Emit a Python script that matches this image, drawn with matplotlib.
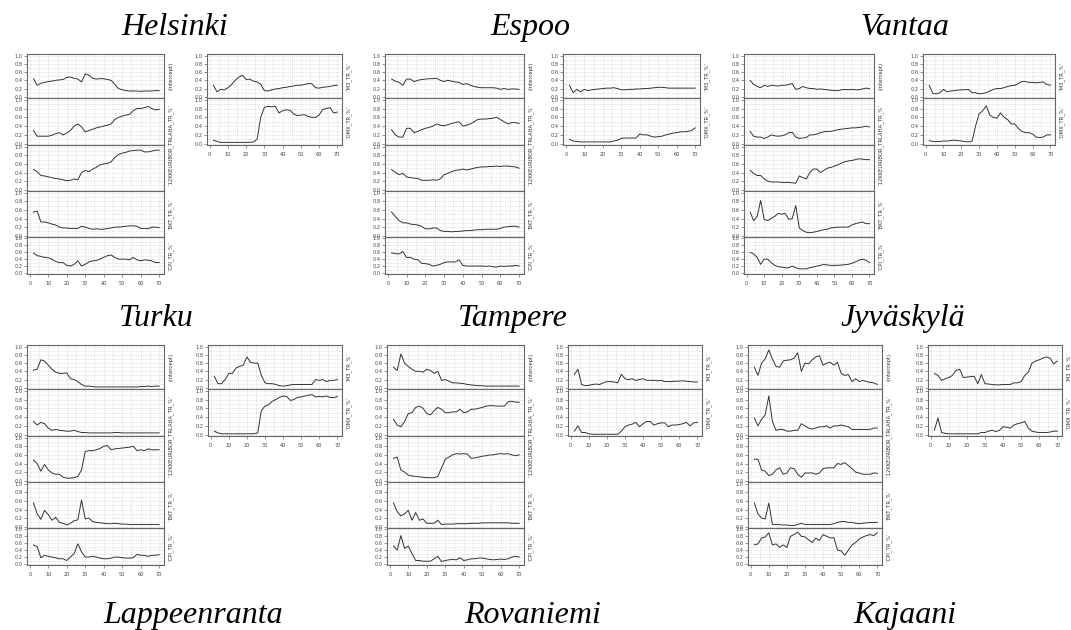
import matplotlib.pyplot as plt
import numpy as np

W, H = 1071, 630

# common time index (every second observation)
x = list(range(2, 71, 2))

# Helsinki
hel_int = [0.44,0.28,0.33,0.35,0.37,0.38,0.40,0.41,0.42,0.47,0.48,0.45,0.43,0.36,0.56,0.52,0.45,0.43,0.44,0.44,0.42,0.40,0.30,0.20,0.17,0.15,0.14,0.14,0.14,0.13,0.14,0.14,0.14,0.15,0.15]
hel_lah = [0.30,0.17,0.17,0.17,0.17,0.19,0.23,0.25,0.20,0.24,0.30,0.40,0.45,0.38,0.27,0.30,0.33,0.36,0.38,0.40,0.42,0.45,0.55,0.60,0.63,0.65,0.67,0.75,0.80,0.80,0.82,0.85,0.80,0.77,0.78]
hel_eur = [0.47,0.42,0.33,0.32,0.30,0.28,0.26,0.25,0.23,0.21,0.22,0.25,0.23,0.40,0.45,0.42,0.48,0.52,0.58,0.60,0.61,0.65,0.75,0.82,0.85,0.87,0.90,0.91,0.92,0.92,0.88,0.88,0.90,0.92,0.92]
hel_bkt = [0.55,0.57,0.32,0.32,0.30,0.27,0.25,0.20,0.18,0.18,0.17,0.17,0.17,0.22,0.20,0.17,0.15,0.16,0.15,0.15,0.17,0.18,0.20,0.20,0.21,0.22,0.23,0.23,0.22,0.17,0.17,0.16,0.20,0.20,0.19]
hel_cpi = [0.58,0.50,0.48,0.45,0.44,0.40,0.33,0.30,0.30,0.22,0.20,0.25,0.35,0.20,0.25,0.32,0.35,0.36,0.40,0.45,0.50,0.52,0.45,0.40,0.40,0.40,0.38,0.45,0.38,0.35,0.38,0.37,0.35,0.30,0.30]
hel_m3 = [0.28,0.12,0.18,0.17,0.22,0.30,0.40,0.48,0.52,0.42,0.43,0.38,0.36,0.30,0.15,0.14,0.17,0.19,0.20,0.22,0.23,0.25,0.26,0.28,0.28,0.30,0.32,0.32,0.22,0.21,0.23,0.24,0.25,0.27,0.28]
hel_omx = [0.08,0.05,0.03,0.03,0.03,0.03,0.03,0.03,0.03,0.03,0.03,0.04,0.10,0.60,0.83,0.85,0.84,0.85,0.70,0.75,0.77,0.76,0.68,0.64,0.65,0.66,0.62,0.60,0.60,0.65,0.78,0.80,0.82,0.70,0.72]

# Espoo
esp_int = [0.43,0.38,0.35,0.28,0.43,0.43,0.37,0.40,0.42,0.43,0.44,0.44,0.45,0.40,0.37,0.40,0.38,0.36,0.35,0.30,0.32,0.28,0.25,0.23,0.22,0.22,0.22,0.22,0.21,0.18,0.20,0.18,0.19,0.19,0.18]
esp_lah = [0.32,0.20,0.15,0.15,0.35,0.35,0.25,0.28,0.32,0.35,0.37,0.40,0.45,0.42,0.41,0.43,0.46,0.48,0.50,0.40,0.42,0.45,0.50,0.55,0.56,0.56,0.57,0.58,0.60,0.55,0.50,0.45,0.48,0.48,0.46]
esp_eur = [0.47,0.40,0.35,0.38,0.30,0.28,0.27,0.26,0.22,0.22,0.22,0.23,0.22,0.25,0.35,0.38,0.42,0.45,0.46,0.48,0.46,0.48,0.50,0.52,0.53,0.53,0.54,0.54,0.55,0.54,0.55,0.55,0.54,0.53,0.50]
esp_bkt = [0.55,0.45,0.35,0.30,0.30,0.27,0.26,0.25,0.22,0.16,0.16,0.18,0.18,0.12,0.10,0.10,0.09,0.10,0.10,0.11,0.12,0.12,0.13,0.14,0.14,0.15,0.15,0.15,0.15,0.17,0.20,0.21,0.22,0.22,0.20]
esp_cpi = [0.58,0.56,0.55,0.62,0.45,0.45,0.40,0.38,0.28,0.27,0.25,0.20,0.22,0.25,0.30,0.32,0.32,0.32,0.38,0.22,0.20,0.20,0.20,0.20,0.20,0.19,0.20,0.18,0.17,0.20,0.19,0.20,0.20,0.22,0.20]
esp_m3 = [0.28,0.10,0.18,0.12,0.18,0.15,0.17,0.18,0.19,0.20,0.21,0.21,0.22,0.20,0.17,0.17,0.18,0.18,0.19,0.19,0.20,0.20,0.21,0.22,0.23,0.23,0.22,0.21,0.21,0.21,0.21,0.21,0.21,0.21,0.21]
esp_omx = [0.10,0.06,0.05,0.04,0.04,0.04,0.04,0.04,0.04,0.04,0.04,0.04,0.06,0.08,0.12,0.13,0.13,0.13,0.13,0.22,0.20,0.20,0.17,0.15,0.16,0.17,0.20,0.22,0.24,0.25,0.27,0.27,0.28,0.30,0.36]

# Vantaa
van_int = [0.40,0.30,0.25,0.22,0.28,0.25,0.28,0.27,0.26,0.28,0.28,0.30,0.32,0.18,0.20,0.25,0.22,0.20,0.20,0.18,0.19,0.18,0.17,0.16,0.15,0.15,0.17,0.18,0.17,0.18,0.17,0.17,0.19,0.21,0.20]
van_lah = [0.28,0.17,0.15,0.15,0.12,0.15,0.20,0.18,0.17,0.18,0.20,0.25,0.26,0.15,0.12,0.13,0.14,0.20,0.20,0.22,0.25,0.27,0.28,0.28,0.30,0.32,0.33,0.34,0.35,0.36,0.36,0.37,0.38,0.40,0.38]
van_eur = [0.45,0.38,0.33,0.33,0.25,0.20,0.18,0.18,0.18,0.17,0.17,0.17,0.16,0.15,0.32,0.28,0.25,0.40,0.48,0.48,0.40,0.45,0.50,0.52,0.55,0.58,0.62,0.65,0.67,0.68,0.70,0.72,0.71,0.70,0.70]
van_bkt = [0.55,0.35,0.45,0.82,0.38,0.35,0.40,0.45,0.52,0.50,0.52,0.38,0.40,0.70,0.18,0.12,0.08,0.07,0.08,0.10,0.12,0.14,0.15,0.18,0.19,0.20,0.20,0.20,0.20,0.25,0.28,0.30,0.32,0.28,0.28]
van_cpi = [0.60,0.55,0.45,0.25,0.40,0.40,0.30,0.22,0.18,0.17,0.15,0.15,0.20,0.15,0.12,0.12,0.12,0.15,0.17,0.20,0.22,0.25,0.23,0.22,0.22,0.22,0.23,0.24,0.25,0.28,0.32,0.37,0.40,0.37,0.30]
van_m3 = [0.28,0.08,0.07,0.10,0.18,0.12,0.14,0.15,0.16,0.17,0.17,0.18,0.10,0.10,0.07,0.08,0.10,0.14,0.18,0.20,0.20,0.22,0.25,0.27,0.28,0.32,0.37,0.37,0.35,0.35,0.34,0.35,0.36,0.30,0.28]
van_omx = [0.07,0.05,0.05,0.05,0.06,0.06,0.07,0.08,0.07,0.06,0.05,0.04,0.05,0.40,0.68,0.75,0.86,0.65,0.60,0.58,0.70,0.60,0.55,0.45,0.45,0.35,0.28,0.25,0.25,0.22,0.15,0.14,0.15,0.20,0.20]

# Turku
tur_int = [0.43,0.45,0.68,0.65,0.55,0.45,0.38,0.35,0.35,0.36,0.22,0.20,0.15,0.08,0.04,0.04,0.03,0.02,0.02,0.02,0.02,0.02,0.02,0.02,0.02,0.02,0.02,0.02,0.02,0.03,0.03,0.04,0.03,0.04,0.04]
tur_lah = [0.30,0.22,0.28,0.25,0.15,0.10,0.12,0.10,0.09,0.08,0.08,0.10,0.07,0.05,0.05,0.04,0.04,0.04,0.04,0.04,0.04,0.04,0.05,0.05,0.04,0.04,0.04,0.04,0.04,0.04,0.04,0.04,0.04,0.04,0.04]
tur_eur = [0.48,0.40,0.22,0.38,0.25,0.18,0.15,0.15,0.08,0.06,0.06,0.07,0.10,0.25,0.68,0.70,0.70,0.72,0.75,0.80,0.82,0.72,0.74,0.75,0.76,0.77,0.78,0.80,0.70,0.72,0.70,0.74,0.72,0.72,0.72]
tur_bkt = [0.55,0.30,0.17,0.38,0.28,0.15,0.22,0.10,0.08,0.04,0.08,0.14,0.16,0.62,0.18,0.20,0.12,0.10,0.09,0.08,0.07,0.07,0.08,0.07,0.06,0.06,0.05,0.05,0.05,0.05,0.05,0.05,0.05,0.05,0.05]
tur_cpi = [0.55,0.50,0.18,0.25,0.22,0.20,0.18,0.15,0.15,0.10,0.20,0.30,0.58,0.35,0.20,0.20,0.22,0.20,0.17,0.15,0.15,0.17,0.20,0.20,0.18,0.17,0.17,0.18,0.28,0.25,0.25,0.22,0.25,0.25,0.27]
tur_m3 = [0.28,0.10,0.10,0.20,0.35,0.35,0.48,0.52,0.55,0.75,0.62,0.60,0.60,0.30,0.12,0.10,0.10,0.08,0.05,0.04,0.05,0.07,0.08,0.08,0.08,0.08,0.08,0.08,0.20,0.18,0.20,0.15,0.18,0.18,0.20]
tur_omx = [0.08,0.04,0.02,0.02,0.02,0.02,0.02,0.02,0.02,0.02,0.02,0.02,0.04,0.55,0.65,0.68,0.76,0.80,0.85,0.88,0.87,0.78,0.80,0.85,0.86,0.88,0.90,0.91,0.86,0.87,0.86,0.88,0.85,0.84,0.87]

# Tampere
tam_int = [0.50,0.42,0.82,0.60,0.52,0.45,0.40,0.40,0.38,0.45,0.42,0.35,0.40,0.18,0.20,0.16,0.12,0.12,0.11,0.10,0.08,0.07,0.06,0.05,0.05,0.04,0.04,0.04,0.04,0.04,0.04,0.04,0.04,0.04,0.04]
tam_lah = [0.35,0.22,0.18,0.30,0.48,0.50,0.62,0.65,0.60,0.48,0.45,0.55,0.62,0.58,0.50,0.50,0.52,0.52,0.58,0.50,0.52,0.58,0.58,0.60,0.62,0.65,0.66,0.66,0.65,0.65,0.65,0.75,0.76,0.74,0.74]
tam_eur = [0.52,0.55,0.25,0.20,0.13,0.11,0.10,0.09,0.08,0.07,0.07,0.07,0.10,0.30,0.50,0.55,0.60,0.63,0.62,0.63,0.62,0.52,0.53,0.55,0.57,0.58,0.60,0.60,0.62,0.63,0.62,0.63,0.60,0.58,0.60]
tam_bkt = [0.55,0.35,0.25,0.30,0.38,0.15,0.33,0.15,0.18,0.08,0.08,0.08,0.15,0.05,0.06,0.06,0.06,0.07,0.07,0.07,0.07,0.08,0.08,0.08,0.09,0.09,0.09,0.09,0.09,0.09,0.09,0.09,0.08,0.08,0.08]
tam_cpi = [0.52,0.40,0.82,0.45,0.52,0.30,0.10,0.10,0.08,0.08,0.08,0.15,0.22,0.07,0.10,0.12,0.13,0.12,0.18,0.10,0.12,0.15,0.15,0.17,0.17,0.15,0.13,0.12,0.13,0.14,0.13,0.15,0.20,0.22,0.20]
tam_m3 = [0.32,0.45,0.08,0.05,0.06,0.08,0.09,0.08,0.12,0.15,0.15,0.14,0.12,0.33,0.22,0.20,0.22,0.18,0.20,0.22,0.18,0.18,0.18,0.17,0.18,0.15,0.15,0.15,0.16,0.16,0.17,0.16,0.15,0.14,0.14]
tam_omx = [0.08,0.20,0.05,0.05,0.02,0.01,0.01,0.01,0.01,0.01,0.01,0.01,0.01,0.08,0.18,0.22,0.24,0.28,0.18,0.25,0.30,0.30,0.22,0.25,0.27,0.27,0.18,0.22,0.22,0.23,0.25,0.28,0.20,0.27,0.28]

# Jyväskylä
jyv_int = [0.50,0.30,0.60,0.70,0.92,0.70,0.52,0.50,0.65,0.67,0.68,0.72,0.85,0.40,0.60,0.58,0.68,0.75,0.78,0.55,0.60,0.62,0.55,0.62,0.35,0.30,0.32,0.15,0.22,0.15,0.18,0.15,0.13,0.12,0.08]
jyv_lah = [0.38,0.20,0.35,0.45,0.88,0.30,0.10,0.12,0.12,0.08,0.08,0.10,0.10,0.25,0.20,0.15,0.13,0.15,0.18,0.18,0.20,0.15,0.20,0.20,0.22,0.20,0.18,0.12,0.12,0.12,0.12,0.12,0.12,0.15,0.15]
jyv_eur = [0.50,0.50,0.25,0.22,0.12,0.15,0.25,0.30,0.15,0.18,0.30,0.28,0.15,0.08,0.18,0.18,0.18,0.15,0.18,0.28,0.30,0.30,0.30,0.40,0.38,0.42,0.35,0.28,0.20,0.18,0.15,0.15,0.15,0.18,0.17]
jyv_bkt = [0.55,0.30,0.20,0.18,0.55,0.05,0.05,0.05,0.04,0.04,0.03,0.03,0.05,0.08,0.05,0.05,0.05,0.05,0.05,0.05,0.05,0.05,0.07,0.10,0.12,0.12,0.10,0.10,0.08,0.07,0.08,0.09,0.10,0.10,0.10]
jyv_cpi = [0.55,0.58,0.75,0.78,0.90,0.55,0.58,0.48,0.55,0.48,0.80,0.85,0.92,0.80,0.78,0.70,0.62,0.75,0.68,0.85,0.80,0.75,0.76,0.40,0.38,0.25,0.40,0.55,0.62,0.72,0.78,0.82,0.85,0.82,0.90]
jyv_m3 = [0.35,0.30,0.18,0.22,0.25,0.30,0.42,0.45,0.25,0.26,0.27,0.28,0.10,0.32,0.10,0.09,0.08,0.07,0.07,0.08,0.08,0.08,0.12,0.12,0.15,0.30,0.38,0.60,0.65,0.68,0.72,0.75,0.72,0.58,0.65]
jyv_omx = [0.10,0.38,0.05,0.03,0.02,0.02,0.02,0.02,0.02,0.02,0.02,0.02,0.02,0.05,0.05,0.08,0.10,0.07,0.10,0.18,0.17,0.15,0.22,0.25,0.27,0.30,0.15,0.08,0.06,0.05,0.05,0.05,0.06,0.08,0.08]

cities = ['Helsinki', 'Espoo', 'Vantaa', 'Turku', 'Tampere', 'Jyväskylä']
left_series = [
    [hel_int, hel_lah, hel_eur, hel_bkt, hel_cpi],
    [esp_int, esp_lah, esp_eur, esp_bkt, esp_cpi],
    [van_int, van_lah, van_eur, van_bkt, van_cpi],
    [tur_int, tur_lah, tur_eur, tur_bkt, tur_cpi],
    [tam_int, tam_lah, tam_eur, tam_bkt, tam_cpi],
    [jyv_int, jyv_lah, jyv_eur, jyv_bkt, jyv_cpi],
]
right_series = [
    [hel_m3, hel_omx], [esp_m3, esp_omx], [van_m3, van_omx],
    [tur_m3, tur_omx], [tam_m3, tam_omx], [jyv_m3, jyv_omx],
]
right_labels = ['`M3_TR_%`', '`OMX_TR_%`']
empty_titles = ['Lappeenranta', 'Rovaniemi', 'Kajaani']

# pixel layout: left stack (l, r), right stack (l, r), top, title centre x
layout = [
    ((27, 164), (207, 342), 54, 175),
    ((385, 524), (563, 700), 54, 530),
    ((744, 874), (923, 1055), 54, 905),
    ((27, 164), (208, 342), 345, 156),
    ((387, 524), (568, 702), 345, 513),
    ((748, 882), (928, 1062), 345, 903),
]
offs = [0, 44, 91, 137, 183, 220]

fig = plt.figure(figsize=(W / 100, H / 100), dpi=100)


def make_ax(l, t, r, b):
    return fig.add_axes([l / W, 1 - b / H, (r - l) / W, (b - t) / H])


def style(ax, bottom):
    ax.set_xlim(-1.5, 72.6)
    ax.set_ylim(-0.03, 1.04)
    ax.set_xticks(np.arange(0, 71, 10))
    ax.set_xticks(np.arange(5, 71, 10), minor=True)
    ax.set_yticks(np.arange(0, 1.01, 0.2))
    ax.set_yticks(np.arange(0.1, 1.0, 0.2), minor=True)
    ax.set_yticklabels([f'{v:.1f}' for v in np.arange(0, 1.01, 0.2)])
    ax.grid(which='both', color='#c8c8c8', linestyle=':', linewidth=0.5)
    ax.tick_params(which='minor', length=0)
    ax.tick_params(which='major', labelsize=3.6, length=2, width=0.4,
                   colors='#444444', pad=1)
    if not bottom:
        ax.tick_params(axis='x', which='major', length=0, labelbottom=False)
    else:
        ax.tick_params(axis='x', pad=3)
    for s in ax.spines.values():
        s.set_color('#666666')
        s.set_linewidth(0.8)


def side_label(ax, width_px, text, y=0.5):
    ax.text(1 + 7 / width_px, y, text, transform=ax.transAxes, rotation=90,
            ha='center', va='center', fontsize=3.8, color='#333333')


for i, name in enumerate(cities):
    (ll, lr), (rl, rr), top, tx = layout[i]
    # left stack of five coefficient paths
    for k in range(5):
        ax = make_ax(ll, top + offs[k], lr, top + offs[k + 1])
        style(ax, k == 4)
        ax.plot(x, left_series[i][k], color='#333333', linewidth=0.7)
        if k == 0:
            side_label(ax, lr - ll, '(Intercept)')
        elif k == 2:
            side_label(ax, lr - ll, '`12KKEURIBOR_TRLAHA_TR_%`', y=1.0)
        elif k == 3:
            side_label(ax, lr - ll, '`BKT_TR_%`')
        elif k == 4:
            side_label(ax, lr - ll, '`CPI_TR_%`')
    # right stack of two coefficient paths
    for k in range(2):
        ax = make_ax(rl, top + offs[k], rr, top + offs[k + 1])
        style(ax, k == 1)
        ax.plot(x, right_series[i][k], color='#333333', linewidth=0.7)
        side_label(ax, rr - rl, right_labels[k])
    # city title
    fig.text(tx / W, 1 - (top - 19) / H, name, ha='center', va='baseline',
             fontsize=23, style='italic', family='Liberation Serif')

# titles of the next row (its panels fall outside the picture)
for name, tx in zip(empty_titles, [193, 533, 905]):
    fig.text(tx / W, 1 - 623 / H, name, ha='center', va='baseline',
             fontsize=23, style='italic', family='Liberation Serif')

fig.savefig('out.png', dpi=100, facecolor='white')
